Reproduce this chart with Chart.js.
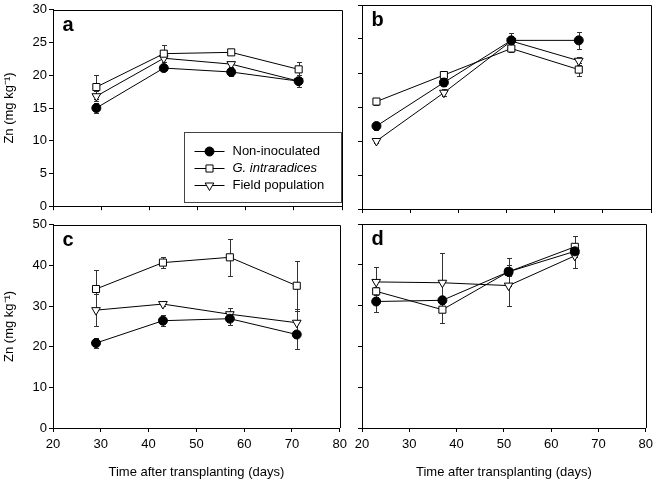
<!DOCTYPE html>
<html>
<head>
<meta charset="utf-8">
<script src="https://cdn.jsdelivr.net/npm/chart.js@4.4.1/dist/chart.umd.min.js"></script>
<style>
  body { margin: 0; background: #fff; }
  #wrap { position: relative; width: 658px; height: 480px; }
  #wrap canvas { position: absolute; }
</style>
</head>
<body>
<div id="wrap">
  <canvas id="panelA" width="352" height="216" style="left:0px;top:0px"></canvas>
  <canvas id="panelB" width="338" height="216" style="left:320px;top:0px"></canvas>
  <canvas id="panelC" width="352" height="265" style="left:0px;top:215px"></canvas>
  <canvas id="panelD" width="338" height="265" style="left:320px;top:215px"></canvas>
</div>
<script>
const seriesLabels = ["Non-inoculated", "G. intraradices", "Field population"];

const daysAC = [29, 43, 57, 71];
const daysBD = [23, 37, 51, 65];

const xTicks = [20, 30, 40, 50, 60, 70, 80];
const yTicksTop = [0, 5, 10, 15, 20, 25, 30];
const yTicksBottom = [0, 10, 20, 30, 40, 50];

// panel a
const nonA = [15.0, 21.1, 20.5, 19.1];
const nonAErr = [0.7, 0.5, 0.6, 0.9];
const gintA = [18.2, 23.3, 23.5, 20.9];
const gintAErr = [1.8, 1.3, 0.4, 1.1];
const fieldA = [16.8, 22.6, 21.7, 19.1];
const fieldAErr = [0.8, 0.5, 0.4, 0.5];

// panel b
const nonB = [12.2, 18.6, 24.8, 24.8];
const nonBErr = [0.6, 0.5, 0.6, 1.2];
const gintB = [15.8, 19.7, 23.6, 20.5];
const gintBErr = [0.5, 0.5, 0.5, 0.9];
const fieldB = [10.0, 17.1, 24.7, 21.8];
const fieldBErr = [0.3, 0.5, 1.2, 0.6];

// panel c
const nonC = [20.9, 26.4, 26.9, 23.0];
const nonCErr = [1.2, 1.4, 1.6, 3.6];
const gintC = [34.2, 40.7, 42.0, 35.0];
const gintCErr = [4.7, 1.4, 4.5, 6.1];
const fieldC = [29.0, 30.5, 28.0, 25.9];
const fieldCErr = [4.0, 0.5, 1.5, 3.3];

// panel d
const nonD = [31.0, 31.3, 38.3, 43.3];
const nonDErr = [2.5, 1.0, 1.0, 1.0];
const gintD = [33.5, 29.0, 38.3, 44.4];
const gintDErr = [1.0, 3.3, 3.4, 2.6];
const fieldD = [35.8, 35.6, 34.9, 42.2];
const fieldDErr = [3.7, 7.2, 5.0, 3.0];

const FONT = '"Liberation Sans", Arial, sans-serif';
Chart.defaults.font.family = FONT;
Chart.defaults.font.size = 13;
Chart.defaults.color = "#000";

const markers = [
  { pointStyle: "circle", radius: 4.5, rotation: 0, fill: "#000" },
  { pointStyle: "rect", radius: 5, rotation: 0, fill: "#fff" },
  { pointStyle: "triangle", radius: 5, rotation: 180, fill: "#fff" },
];

// error bars, drawn under the lines and markers
const errorBars = {
  id: "errorBars",
  beforeDatasetsDraw(chart) {
    const ctx = chart.ctx;
    const xs = chart.scales.x, ys = chart.scales.y;
    ctx.save();
    ctx.strokeStyle = "#333";
    ctx.lineWidth = 1;
    chart.data.datasets.forEach(ds => {
      ds.data.forEach((p, i) => {
        const e = ds.errors[i];
        const px = Math.round(xs.getPixelForValue(p.x)) + 0.5;
        const top = Math.round(ys.getPixelForValue(p.y + e)) + 0.5;
        const bot = Math.round(ys.getPixelForValue(p.y - e)) + 0.5;
        ctx.beginPath();
        ctx.moveTo(px, top); ctx.lineTo(px, bot);
        ctx.moveTo(px - 2.5, top); ctx.lineTo(px + 2.5, top);
        ctx.moveTo(px - 2.5, bot); ctx.lineTo(px + 2.5, bot);
        ctx.stroke();
      });
    });
    ctx.restore();
  }
};

// top and right edges of the box
const frame = {
  id: "frame",
  beforeDatasetsDraw(chart) {
    const { ctx, chartArea: a } = chart;
    ctx.save();
    ctx.strokeStyle = "#000";
    ctx.lineWidth = 1;
    ctx.beginPath();
    ctx.moveTo(Math.round(a.left), Math.round(a.top) + 0.5);
    ctx.lineTo(Math.round(a.right) + 0.5, Math.round(a.top) + 0.5);
    ctx.lineTo(Math.round(a.right) + 0.5, Math.round(a.bottom));
    ctx.stroke();
    ctx.restore();
  }
};

// panel letter and (for panel a) the boxed legend
const decorations = {
  id: "decorations",
  afterDraw(chart) {
    const { ctx, chartArea: a } = chart;
    const o = chart.options.plugins.decorations;
    ctx.save();
    ctx.fillStyle = "#000";
    ctx.font = "bold 20px " + FONT;
    ctx.textBaseline = "alphabetic";
    ctx.fillText(o.letter, a.left + 9.5, a.top + 21);

    if (o.legend) {
      const bx = Math.round(a.right - 158) + 0.5;
      const by = Math.round(a.bottom - 74) + 0.5;
      ctx.strokeStyle = "#444";
      ctx.lineWidth = 1;
      ctx.strokeRect(bx, by, 157, 70);
      chart.data.datasets.forEach((ds, i) => {
        const y = Math.round(by + 18 + i * 17) + 0.5;
        ctx.strokeStyle = "#000";
        ctx.beginPath();
        ctx.moveTo(bx + 10, y); ctx.lineTo(bx + 40, y);
        ctx.stroke();
        const m = markers[i];
        ctx.fillStyle = m.fill;
        Chart.helpers.drawPoint(ctx, { pointStyle: m.pointStyle, radius: m.radius, rotation: m.rotation, borderWidth: 1 }, bx + 25, y);
        ctx.fillStyle = "#000";
        ctx.font = (i === 1 ? "italic " : "") + "13px " + FONT;
        ctx.textBaseline = "middle";
        ctx.fillText(ds.label, bx + 48, y);
      });
    }
    ctx.restore();
  }
};

function makePanel(id, letter, days, series, errs, yTicks, cfg) {
  const datasets = series.map((vals, i) => ({
    label: seriesLabels[i],
    data: vals.map((v, j) => ({ x: days[j], y: v })),
    errors: errs[i],
    borderColor: "#000",
    borderWidth: 1,
    backgroundColor: markers[i].fill,
    pointBackgroundColor: markers[i].fill,
    pointBorderColor: "#000",
    pointBorderWidth: 1,
    pointStyle: markers[i].pointStyle,
    pointRadius: markers[i].radius,
    pointRotation: markers[i].rotation,
    tension: 0,
    fill: false,
  }));

  new Chart(document.getElementById(id), {
    type: "line",
    data: { datasets },
    options: {
      responsive: false,
      animation: false,
      devicePixelRatio: 1,
      layout: {
        autoPadding: false,
        padding: { top: cfg.padTop, right: cfg.padRight, left: 0, bottom: 0 },
      },
      plugins: {
        legend: { display: false },
        tooltip: { enabled: false },
        decorations: { letter, legend: cfg.legend },
      },
      scales: {
        x: {
          type: "linear",
          min: xTicks[0],
          max: xTicks[xTicks.length - 1],
          ticks: { stepSize: xTicks[1] - xTicks[0], display: cfg.xLabels, padding: 5, font: { size: 13 } },
          grid: { display: true, drawOnChartArea: false, drawTicks: true, tickLength: 4, color: "#000" },
          border: { display: true, color: "#000", width: 1 },
          title: {
            display: cfg.xLabels,
            text: "Time after transplanting (days)",
            font: { size: 13 },
            padding: { top: 0, bottom: 0 },
          },
          afterFit(scale) { scale.height = cfg.xHeight; },
        },
        y: {
          type: "linear",
          min: yTicks[0],
          max: yTicks[yTicks.length - 1],
          ticks: { stepSize: yTicks[1] - yTicks[0], display: cfg.yLabels, padding: 2, font: { size: 13 } },
          grid: { display: true, drawOnChartArea: false, drawTicks: true, tickLength: 4, color: "#000" },
          border: { display: true, color: "#000", width: 1 },
          title: {
            display: cfg.yLabels,
            text: "Zn (mg kg\u207B\u00B9)",
            font: { size: 13 },
            padding: { top: 2, bottom: 0 },
          },
          afterFit(scale) { scale.width = cfg.yWidth; },
        },
      },
    },
    plugins: [errorBars, frame, decorations],
  });
}

makePanel("panelA", "a", daysAC, [nonA, gintA, fieldA], [nonAErr, gintAErr, fieldAErr], yTicksTop,
  { padTop: 5, padRight: 10, xHeight: 7, yWidth: 53, xLabels: false, yLabels: true, legend: true });
makePanel("panelB", "b", daysBD, [nonB, gintB, fieldB], [nonBErr, gintBErr, fieldBErr], yTicksTop,
  { padTop: 5, padRight: 7, xHeight: 7, yWidth: 42, xLabels: false, yLabels: false, legend: false });
makePanel("panelC", "c", daysAC, [nonC, gintC, fieldC], [nonCErr, gintCErr, fieldCErr], yTicksBottom,
  { padTop: 9, padRight: 10, xHeight: 52, yWidth: 53, xLabels: true, yLabels: true, legend: false });
makePanel("panelD", "d", daysBD, [nonD, gintD, fieldD], [nonDErr, gintDErr, fieldDErr], yTicksBottom,
  { padTop: 9, padRight: 7, xHeight: 52, yWidth: 42, xLabels: true, yLabels: false, legend: false });
</script>
</body>
</html>
